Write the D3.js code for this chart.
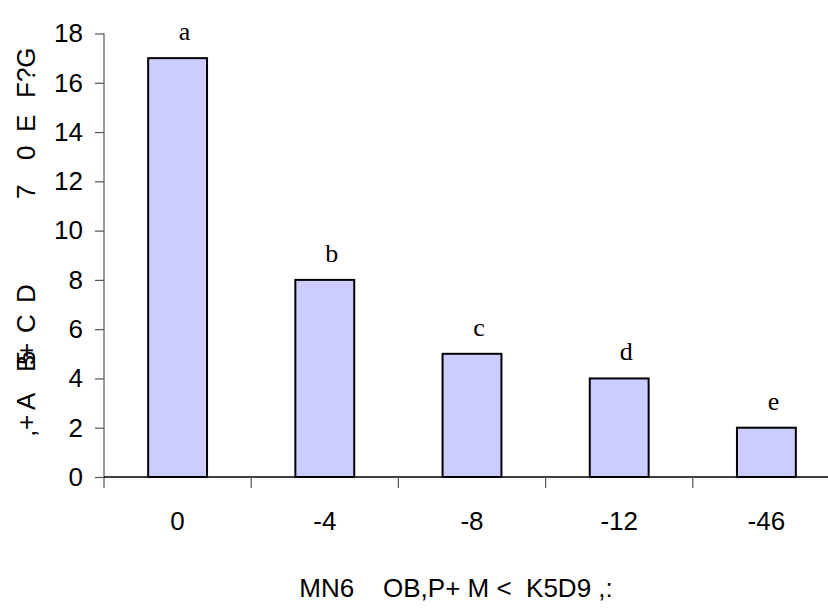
<!DOCTYPE html>
<html>
<head>
<meta charset="utf-8">
<script src="https://cdn.jsdelivr.net/npm/d3@7"></script>
<style>
  html, body { margin: 0; padding: 0; background: #fff; }
  svg { display: block; }
  text { white-space: pre; }
</style>
</head>
<body>
<div id="chart"></div>
<script>
// Bar chart: one bar per treatment, with letter groups above each bar
const categories = ["0", "-4", "-8", "-12", "-46"];
const values = [17, 8, 5, 4, 2];
const groupLetters = ["a", "b", "c", "d", "e"];
const yTicks = [0, 2, 4, 6, 8, 10, 12, 14, 16, 18];
const xTitle = "MN6    OB,P+ M <  K5D9 ,:";
const yTitleGlyphs = [",", "+", "A", "B", "5", "+", "C", "D", "7", "0", "E", "F?G"];

const W = 828, H = 608;
const plotLeft = 104, plotRight = 840, plotTop = 33.5, plotBottom = 477;
const fontSize = 26;

const svg = d3.select("#chart").append("svg")
  .attr("width", W).attr("height", H)
  .attr("viewBox", `0 0 ${W} ${H}`);

const x = d3.scaleBand()
  .domain(categories)
  .range([plotLeft, plotRight])
  .paddingInner(0.6)
  .paddingOuter(0.3);

const y = d3.scaleLinear().domain([0, 18]).range([plotBottom, plotTop]);

const sans = "'Liberation Sans', Arial, sans-serif";
const serif = "'Liberation Serif', 'Times New Roman', serif";

// Bars
svg.append("g").selectAll("rect")
  .data(values)
  .join("rect")
  .attr("x", (d, i) => x(categories[i]))
  .attr("y", d => y(d))
  .attr("width", x.bandwidth())
  .attr("height", d => y(0) - y(d))
  .attr("fill", "#ccccff")
  .attr("stroke", "#000")
  .attr("stroke-width", 2);

// Y axis
const yAxis = d3.axisLeft(y).tickValues(yTicks).tickSize(9).tickPadding(12).tickSizeOuter(0);
const gy = svg.append("g").attr("transform", `translate(${plotLeft},0)`).call(yAxis);
gy.select(".domain").attr("stroke", "#555").attr("stroke-width", 1.2)
  .attr("d", `M0,${y(18)}V${plotBottom + 11}`);
gy.selectAll(".tick line").attr("stroke", "#555").attr("stroke-width", 1.2);
gy.selectAll(".tick text")
  .attr("font-family", sans).attr("font-size", fontSize).attr("fill", "#000");

// X axis line and boundary ticks between categories
const step = x.step();
svg.append("line")
  .attr("x1", plotLeft).attr("x2", plotRight)
  .attr("y1", plotBottom).attr("y2", plotBottom)
  .attr("stroke", "#000").attr("stroke-width", 1.5);
svg.append("g").selectAll("line")
  .data(d3.range(1, categories.length + 1))
  .join("line")
  .attr("x1", i => plotLeft + i * step).attr("x2", i => plotLeft + i * step)
  .attr("y1", plotBottom).attr("y2", plotBottom + 11)
  .attr("stroke", "#555").attr("stroke-width", 1.2);

// X tick labels
svg.append("g").selectAll("text")
  .data(categories)
  .join("text")
  .attr("x", d => x(d) + x.bandwidth() / 2)
  .attr("y", 530)
  .attr("text-anchor", "middle")
  .attr("font-family", sans).attr("font-size", fontSize)
  .text(d => d);

// Group letters above bars
svg.append("g").selectAll("text")
  .data(values)
  .join("text")
  .attr("x", (d, i) => x(categories[i]) + x.bandwidth() / 2 + 7)
  .attr("y", d => y(d) - 18)
  .attr("text-anchor", "middle")
  .attr("font-family", serif).attr("font-size", fontSize)
  .text((d, i) => groupLetters[i]);

// X axis title
svg.append("text")
  .attr("x", 456).attr("y", 597)
  .attr("text-anchor", "middle")
  .attr("font-family", sans).attr("font-size", fontSize)
  .text(xTitle);

// Y axis title, set glyph by glyph along the rotated baseline
const yTitleOffsets = [0, 7, 27, 65, 72, 79, 104, 134, 238, 277, 305, 339];
svg.append("text")
  .attr("transform", "translate(35,437) rotate(-90)")
  .attr("font-family", sans).attr("font-size", fontSize)
  .selectAll("tspan")
  .data(yTitleGlyphs)
  .join("tspan")
  .attr("x", (d, i) => yTitleOffsets[i])
  .attr("y", 0)
  .text(d => d);
</script>
</body>
</html>
